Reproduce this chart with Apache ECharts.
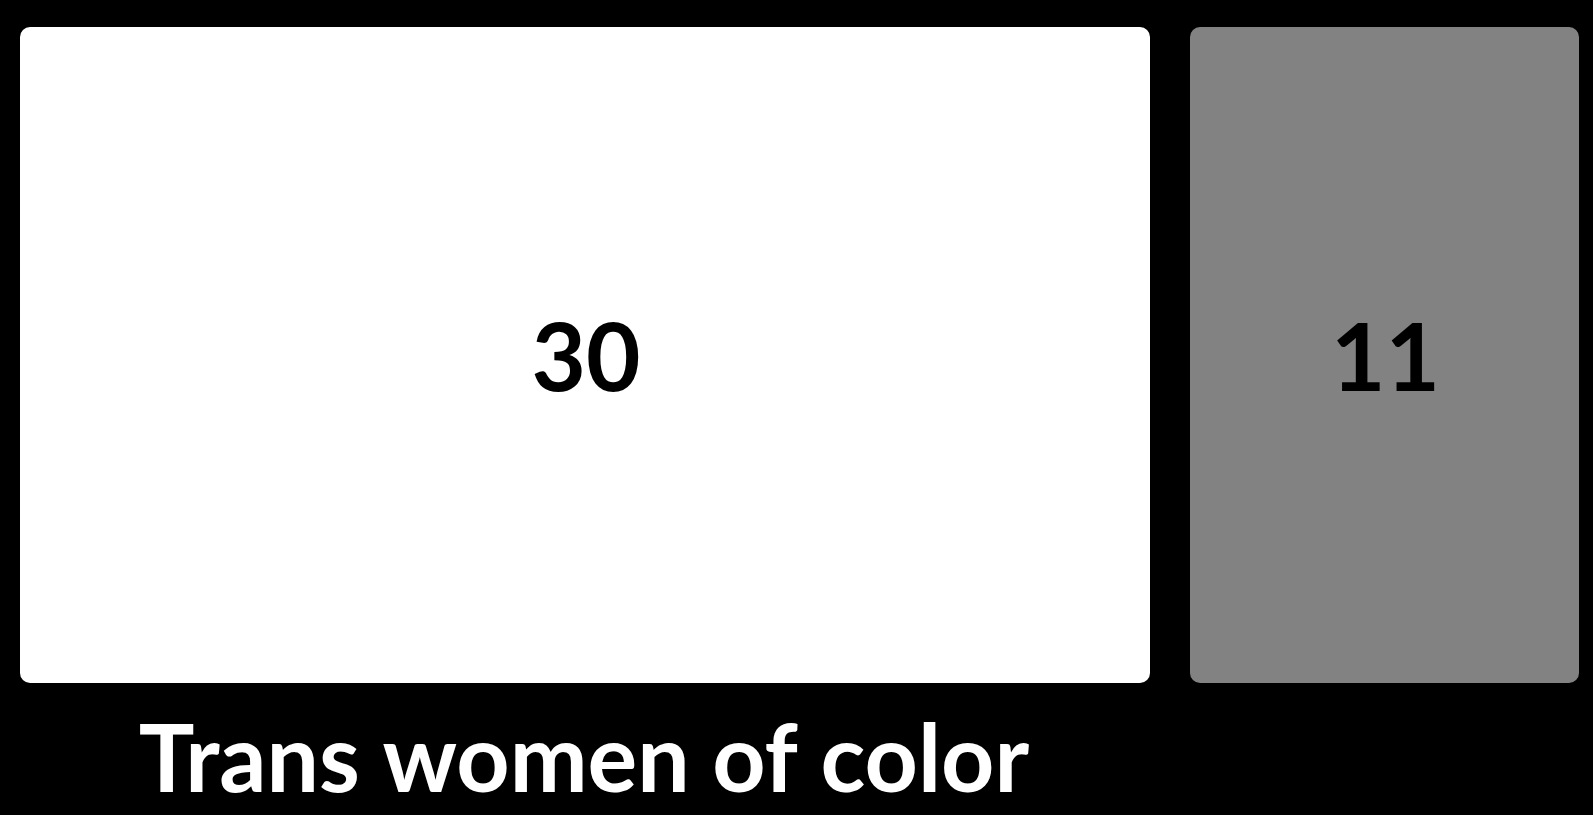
<!DOCTYPE html>
<html>
<head>
<meta charset="utf-8">
<script src="https://cdn.jsdelivr.net/npm/echarts@6/dist/echarts.min.js"></script>
<style>
html,body{margin:0;padding:0;background:#000;}
#chart{width:1593px;height:815px;}
</style>
</head>
<body>
<div id="chart"></div>
<script>
const categories = ["Trans women of color", ""];
const values = [30, 11];
const colors = ["#ffffff", "#828282"];

const chart = echarts.init(document.getElementById('chart'));
chart.setOption({
  backgroundColor: '#000000',
  animation: false,
  series: [{
    type: 'treemap',
    left: 20,
    top: 27,
    width: 1559,
    height: 656,
    roam: false,
    nodeClick: false,
    breadcrumb: { show: false },
    sort: false,
    itemStyle: { gapWidth: 40, borderWidth: 0, borderColor: '#000000', borderRadius: 10 },
    levels: [{ itemStyle: { gapWidth: 40, borderWidth: 0, borderColor: '#000000' } }],
    label: {
      show: true,
      position: 'inside',
      formatter: p => String(p.value),
      color: '#000',
      fontFamily: 'Lato',
      fontWeight: 'bold',
      fontSize: 94,
      offset: [1, 6]
    },
    data: values.map((v, i) => ({
      name: categories[i],
      value: v,
      itemStyle: { color: colors[i], borderRadius: 10 }
    }))
  }],
  graphic: [{
    type: 'text',
    x: 584,
    y: 762,
    style: {
      text: categories[0],
      fill: '#ffffff',
      font: 'bold 93px Lato',
      textAlign: 'center',
      textVerticalAlign: 'middle'
    }
  }]
});
</script>
</body>
</html>
